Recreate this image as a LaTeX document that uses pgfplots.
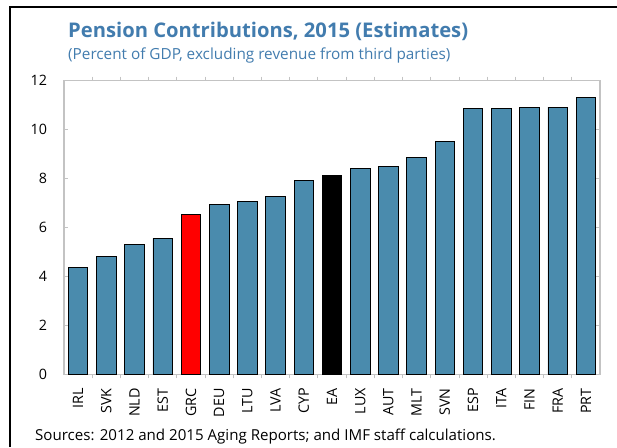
\documentclass[border=0pt]{standalone}
\usepackage{fontspec}
\setmainfont{Open Sans}
\usepackage{pgfplots}
\pgfplotsset{compat=1.18}
\definecolor{titleblue}{RGB}{66,124,174}
\definecolor{barblue}{RGB}{74,139,173}
\definecolor{frame}{RGB}{195,195,195}
\begin{document}
\begin{tikzpicture}
\path[use as bounding box] (0pt,0pt) rectangle (617pt,447pt);
\draw[line width=2pt] (10pt,0pt) -- (10pt,440pt) -- (617pt,440pt);
\node[anchor=base west, inner sep=0pt, font=\fontsize{20.2}{20.2}\selectfont\bfseries, text=titleblue] at (68pt,409pt) {Pension Contributions, 2015 (Estimates)};
\node[anchor=base west, inner sep=0pt, font=\fontsize{15.3}{15.3}\selectfont, text=titleblue] at (68pt,387.7pt) {(Percent of GDP, excluding revenue from third parties)};
\node[anchor=base west, inner sep=0pt, font=\fontsize{15.1}{15.1}\selectfont] at (35pt,7pt) {Sources: 2012 and 2015 Aging Reports; and IMF staff calculations.};
\begin{axis}[
  at={(64pt,72.7pt)}, anchor=south west,
  scale only axis, width=536pt, height=293.6pt,
  xmin=-0.5, xmax=18.5, ymin=0, ymax=12,
  ytick={0,2,...,12},
  xtick={0,...,18},
  xticklabels={IRL,SVK,NLD,EST,GRC,DEU,LTU,LVA,CYP,EA,LUX,AUT,MLT,SVN,ESP,ITA,FIN,FRA,PRT},
  minor xtick={0.5,1.5,...,17.5},
  every major x tick/.style={draw=none},
  tick align=inside,
  major tick length=4pt, minor tick length=4pt,
  tick style={draw=frame, line width=0.9pt},
  axis line style={draw=frame, line width=1.2pt},
  ticklabel style={font=\fontsize{14.3}{14.3}\selectfont, text=black},
  /pgf/number format/assume math mode=true,
  yticklabel style={anchor=east, xshift=-13.5pt},
  xticklabel style={rotate=90, anchor=east, xshift=-6.5pt},
  ybar, bar width=19.5pt, bar shift=0pt,
]
\addplot[fill=barblue, draw=black, line width=0.8pt] coordinates {
 (0,4.37) (1,4.83) (2,5.32) (3,5.56) (5,6.93) (6,7.07) (7,7.27) (8,7.92)
 (10,8.41) (11,8.49) (12,8.87) (13,9.51) (14,10.88) (15,10.88) (16,10.92) (17,10.92) (18,11.33)};
\addplot[fill=red, draw=black, line width=0.8pt] coordinates {(4,6.52)};
\addplot[fill=black, draw=black, line width=0.8pt] coordinates {(9,8.12)};
\end{axis}
\end{tikzpicture}
\end{document}
